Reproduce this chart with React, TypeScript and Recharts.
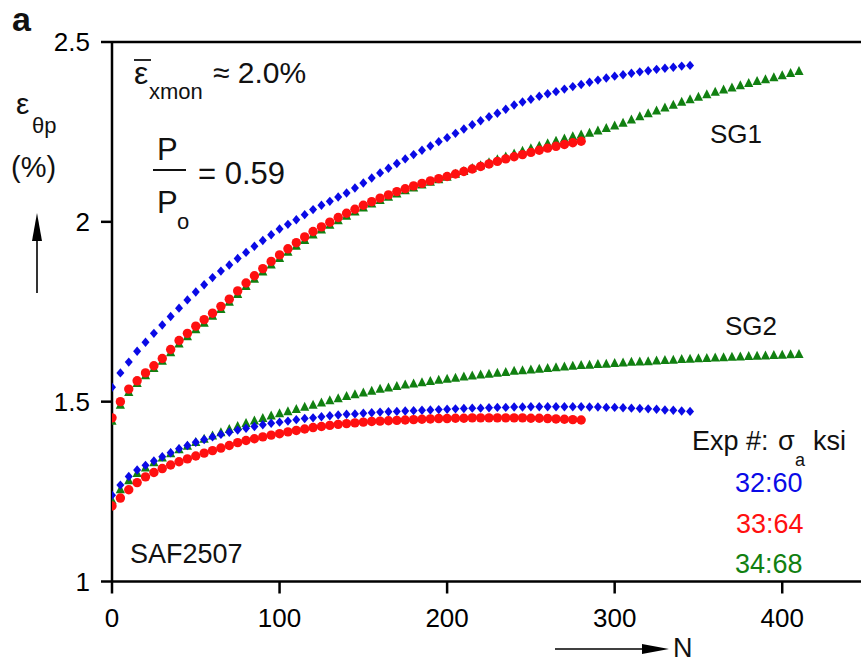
import React from "react";
import { ScatterChart, Scatter, XAxis, YAxis, ReferenceLine } from "recharts";

// cycle count N for every marker (5-cycle spacing)
const cycles = [
  0, 5, 10, 15, 20, 25, 30, 35, 40, 45, 50, 55, 60, 65, 70, 75, 80, 85, 90, 95,
  100, 105, 110, 115, 120, 125, 130, 135, 140, 145, 150, 155, 160, 165, 170, 175, 180, 185, 190, 195,
  200, 205, 210, 215, 220, 225, 230, 235, 240, 245, 250, 255, 260, 265, 270, 275, 280, 285, 290, 295,
  300, 305, 310, 315, 320, 325, 330, 335, 340, 345, 350, 355, 360, 365, 370, 375, 380, 385, 390, 395,
  400, 405, 410,
];

// SG1 strain gauge, eps_theta_p (%)
const sg1Exp32 = [
  1.54, 1.58, 1.61, 1.64, 1.665, 1.69, 1.713, 1.737, 1.76, 1.783,
  1.805, 1.825, 1.845, 1.863, 1.88, 1.898, 1.915, 1.932, 1.948, 1.964,
  1.98, 1.993, 2.006, 2.02, 2.034, 2.046, 2.057, 2.069, 2.08, 2.094,
  2.108, 2.122, 2.136, 2.149, 2.162, 2.175, 2.187, 2.199, 2.211, 2.223,
  2.234, 2.246, 2.258, 2.27, 2.281, 2.292, 2.302, 2.313, 2.325, 2.333,
  2.341, 2.349, 2.356, 2.362, 2.369, 2.376, 2.382, 2.388, 2.394, 2.4,
  2.405, 2.409, 2.413, 2.417, 2.42, 2.424, 2.427, 2.43, 2.433, 2.435,
];
const sg1Exp33 = [
  1.455, 1.5, 1.535, 1.558, 1.58, 1.6, 1.62, 1.645, 1.67, 1.69,
  1.71, 1.728, 1.746, 1.765, 1.785, 1.808, 1.83, 1.85, 1.87, 1.89,
  1.908, 1.925, 1.942, 1.958, 1.973, 1.986, 1.999, 2.012, 2.024, 2.035,
  2.046, 2.056, 2.066, 2.075, 2.084, 2.092, 2.1, 2.107, 2.114, 2.12,
  2.126, 2.133, 2.14, 2.147, 2.154, 2.161, 2.168, 2.175, 2.181, 2.187,
  2.193, 2.199, 2.205, 2.21, 2.215, 2.22, 2.224,
];
const sg1Exp34 = [
  1.445, 1.49, 1.525, 1.55, 1.572, 1.592, 1.612, 1.636, 1.66, 1.68,
  1.7, 1.718, 1.737, 1.756, 1.776, 1.798, 1.82, 1.84, 1.86, 1.88,
  1.898, 1.915, 1.932, 1.948, 1.963, 1.977, 1.99, 2.003, 2.015, 2.027,
  2.038, 2.049, 2.059, 2.068, 2.077, 2.086, 2.094, 2.102, 2.11, 2.117,
  2.124, 2.132, 2.14, 2.148, 2.156, 2.164, 2.172, 2.18, 2.188, 2.196,
  2.203, 2.21, 2.217, 2.224, 2.23, 2.236, 2.241, 2.246, 2.252, 2.259,
  2.266, 2.274, 2.283, 2.292, 2.3, 2.308, 2.316, 2.324, 2.332, 2.339,
  2.346, 2.353, 2.36, 2.366, 2.372, 2.378, 2.384, 2.39, 2.395, 2.4,
  2.406, 2.412, 2.418,
];

// SG2 strain gauge
const sg2Exp32 = [
  1.24, 1.268, 1.292, 1.31, 1.323, 1.335, 1.347, 1.358, 1.369, 1.378,
  1.387, 1.395, 1.402, 1.409, 1.415, 1.421, 1.426, 1.431, 1.436, 1.44,
  1.443, 1.446, 1.45, 1.453, 1.455, 1.458, 1.461, 1.463, 1.465, 1.466,
  1.468, 1.469, 1.471, 1.472, 1.473, 1.474, 1.475, 1.476, 1.477, 1.478,
  1.479, 1.48, 1.481, 1.482, 1.482, 1.483, 1.484, 1.484, 1.485, 1.485,
  1.486, 1.486, 1.486, 1.486, 1.486, 1.486, 1.486, 1.485, 1.485, 1.484,
  1.484, 1.483, 1.482, 1.481, 1.48, 1.479, 1.477, 1.476, 1.474, 1.473,
];
const sg2Exp33 = [
  1.21, 1.232, 1.255, 1.275, 1.291, 1.303, 1.314, 1.324, 1.333, 1.341,
  1.349, 1.357, 1.364, 1.371, 1.378, 1.386, 1.392, 1.397, 1.402, 1.407,
  1.411, 1.416, 1.42, 1.424, 1.428, 1.431, 1.434, 1.437, 1.439, 1.441,
  1.443, 1.445, 1.446, 1.447, 1.448, 1.449, 1.45, 1.451, 1.452, 1.453,
  1.453, 1.454, 1.454, 1.455, 1.455, 1.455, 1.455, 1.455, 1.455, 1.455,
  1.454, 1.454, 1.453, 1.452, 1.451, 1.45, 1.449,
];
const sg2Exp34 = [
  1.225, 1.255, 1.28, 1.3, 1.315, 1.33, 1.343, 1.355, 1.366, 1.376,
  1.386, 1.395, 1.404, 1.413, 1.422, 1.431, 1.439, 1.446, 1.453, 1.46,
  1.466, 1.472, 1.478, 1.484, 1.49, 1.496, 1.502, 1.508, 1.514, 1.519,
  1.524, 1.529, 1.534, 1.538, 1.542, 1.546, 1.549, 1.552, 1.556, 1.559,
  1.562, 1.565, 1.568, 1.571, 1.574, 1.576, 1.579, 1.581, 1.584, 1.586,
  1.588, 1.59, 1.592, 1.594, 1.596, 1.598, 1.6, 1.601, 1.603, 1.604,
  1.606, 1.607, 1.609, 1.61, 1.611, 1.613, 1.614, 1.615, 1.617, 1.618,
  1.619, 1.62, 1.621, 1.622, 1.623, 1.624, 1.625, 1.626, 1.627, 1.628,
  1.629, 1.63, 1.631,
];

const xTicks = [0, 100, 200, 300, 400];
const yTicks = [1, 1.5, 2, 2.5];

const BLUE = "#0a0ae6";
const RED = "#ff1010";
const GREEN = "#118011";
const FONT = '"Liberation Sans", Arial, sans-serif';

const toPoints = (vals: number[]) => vals.map((v, i) => ({ n: cycles[i], e: v }));

const Diamond = (p: any) => (
  <polygon
    points={`${p.cx},${p.cy - 4.7} ${p.cx + 4},${p.cy} ${p.cx},${p.cy + 4.7} ${p.cx - 4},${p.cy}`}
    fill={BLUE}
  />
);
const Dot = (p: any) => <circle cx={p.cx} cy={p.cy} r={4.7} fill={RED} />;
const Tri = (p: any) => (
  <polygon
    points={`${p.cx},${p.cy - 5.6} ${p.cx + 4.6},${p.cy + 3.4} ${p.cx - 4.6},${p.cy + 3.4}`}
    fill={GREEN}
  />
);

const axisStroke = { stroke: "#000", strokeWidth: 2.5 };
const tickStyle = { fill: "#000", fontSize: 26, fontFamily: FONT };

export default function App() {
  return (
    <div
      style={{
        position: "fixed",
        left: 0,
        top: 0,
        width: 861,
        height: 665,
        overflow: "hidden",
        background: "#fff",
        fontFamily: FONT,
      }}
    >
      <ScatterChart width={880} height={665} margin={{ top: 42, right: 14, left: 0, bottom: 23.5 }}>
        <XAxis
          type="number"
          dataKey="n"
          domain={[0, 450]}
          ticks={xTicks}
          allowDataOverflow
          height={60}
          tickSize={12}
          tickMargin={15}
          axisLine={axisStroke}
          tickLine={axisStroke}
          tick={tickStyle}
        />
        <YAxis
          type="number"
          dataKey="e"
          domain={[1, 2.5]}
          ticks={yTicks}
          allowDataOverflow
          width={112}
          tickSize={11}
          tickMargin={11}
          axisLine={axisStroke}
          tickLine={axisStroke}
          tick={tickStyle}
        />
        <ReferenceLine y={2.5} stroke="#000" strokeWidth={2.5} />
        <Scatter data={toPoints(sg2Exp34)} shape={Tri} isAnimationActive={false} />
        <Scatter data={toPoints(sg2Exp32)} shape={Diamond} isAnimationActive={false} />
        <Scatter data={toPoints(sg2Exp33)} shape={Dot} isAnimationActive={false} />
        <Scatter data={toPoints(sg1Exp34)} shape={Tri} isAnimationActive={false} />
        <Scatter data={toPoints(sg1Exp32)} shape={Diamond} isAnimationActive={false} />
        <Scatter data={toPoints(sg1Exp33)} shape={Dot} isAnimationActive={false} />
      </ScatterChart>

      {/* annotations */}
      <svg
        width={861}
        height={665}
        style={{ position: "absolute", left: 0, top: 0, pointerEvents: "none" }}
        fontFamily={FONT}
        fill="#111"
      >
        <text x={12} y={31} fontSize={34} fontWeight="bold">a</text>

        <text x={16} y={114} fontSize={30}>ε</text>
        <text x={32} y={133} fontSize={22}>θp</text>
        <text x={11} y={177} fontSize={29}>(%)</text>
        <line x1={37} y1={293} x2={37} y2={232} stroke="#000" strokeWidth={1.6} />
        <polygon points="37,213 32,241 42,241" fill="#000" />

        <line x1={134} y1={60} x2={151} y2={60} stroke="#111" strokeWidth={1.8} />
        <text x={134} y={84} fontSize={32}>ε</text>
        <text x={149} y={99} fontSize={22}>xmon</text>
        <text x={213} y={83} fontSize={30}>≈ 2.0%</text>

        <text x={157} y={160} fontSize={31}>P</text>
        <line x1={153} y1={170} x2={186} y2={170} stroke="#111" strokeWidth={2} />
        <text x={157} y={213} fontSize={31}>P</text>
        <text x={177} y={229} fontSize={22}>o</text>
        <text x={198} y={184} fontSize={31}>= 0.59</text>

        <text x={710} y={143} fontSize={26}>SG1</text>
        <text x={725} y={335} fontSize={26}>SG2</text>

        <text x={692} y={450} fontSize={27}>Exp #:</text>
        <text x={778} y={450} fontSize={27}>σ</text>
        <text x={795} y={466} fontSize={18}>a</text>
        <text x={813} y={450} fontSize={27}>ksi</text>
        <text x={735} y={492} fontSize={27} fill={BLUE}>32:60</text>
        <text x={736} y={533} fontSize={27} fill={RED}>33:64</text>
        <text x={735} y={573} fontSize={27} fill={GREEN}>34:68</text>

        <text x={130} y={563} fontSize={27}>SAF2507</text>

        <line x1={555} y1={649} x2={648} y2={649} stroke="#000" strokeWidth={1.6} />
        <polygon points="669,649 642,644 642,654" fill="#000" />
        <text x={673} y={657} fontSize={27}>N</text>
      </svg>
    </div>
  );
}
